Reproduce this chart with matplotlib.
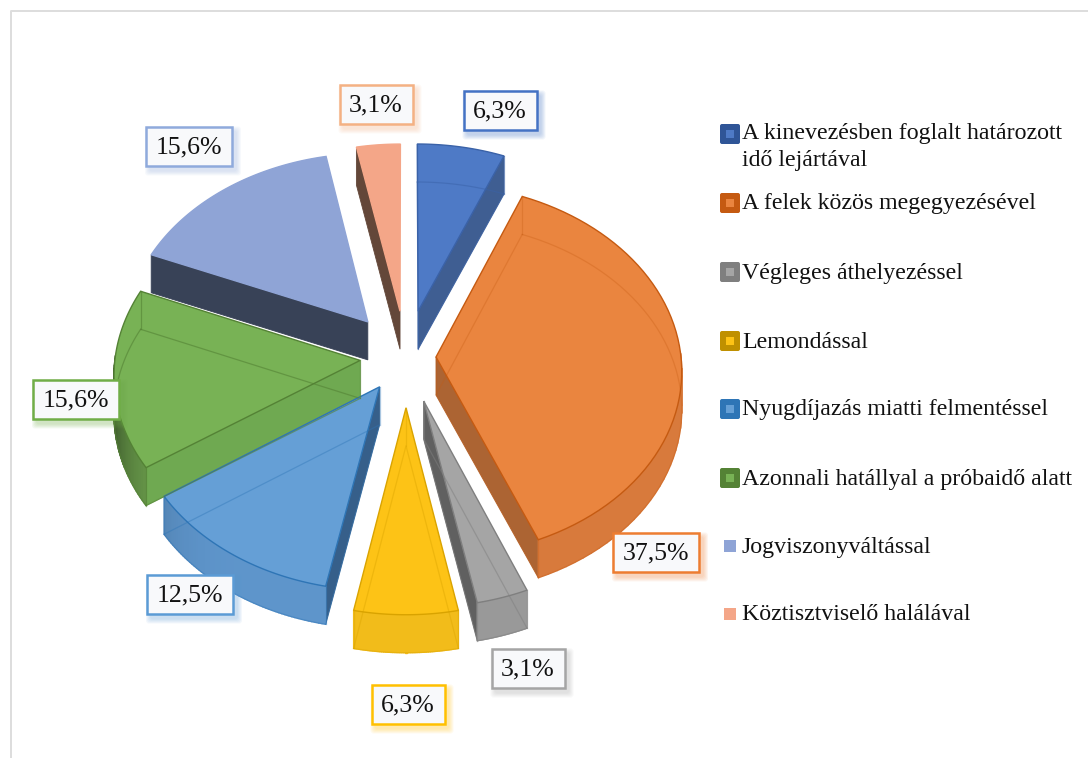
import numpy as np
import matplotlib
matplotlib.use("Agg")
import matplotlib.pyplot as plt
from matplotlib.patches import Polygon, Rectangle, FancyBboxPatch

plt.rcParams['font.family'] = ['Liberation Serif', 'DejaVu Serif']

# data
categories = [
    "A kinevezésben foglalt határozott\nidő lejártával",
    "A felek közös megegyezésével",
    "Végleges áthelyezéssel",
    "Lemondással",
    "Nyugdíjazás miatti felmentéssel",
    "Azonnali hatállyal a próbaidő alatt",
    "Jogviszonyváltással",
    "Köztisztviselő halálával",
]
values = [6.25, 37.5, 3.125, 6.25, 12.5, 15.625, 15.625, 3.125]
value_labels = ["6,3%", "37,5%", "3,1%", "6,3%", "12,5%", "15,6%", "15,6%", "3,1%"]

# colours
top_cols = ["#4E7AC6", "#EA853F", "#A5A5A5", "#FDC316", "#659FD6", "#78B255", "#8FA4D6", "#F4A688"]
wall_cols = ["#3F5E92", "#AC6433", "#606060", "#F2BC1A", "#365F8A", "#6FA951", "#384257", "#634739"]
rim_cols = ["#3F5E92", "#D87A3C", "#999999", "#F2BC1A", "#5E95CB", "#6FA34F", "#384257", "#634739"]
edge_cols = ["#3A62A8", "#C55A11", "#7F7F7F", "#D9A300", "#2E75B6", "#548235", "#8FA4D6", "#F4A688"]
swatch_cols = ["#2F5597", "#C55A11", "#7F7F7F", "#BF9000", "#2E75B6", "#548235", "#8FA4D6", "#F4A688"]
label_edges = ["#4472C4", "#ED7D31", "#A5A5A5", "#FFC000", "#5B9BD5", "#70AD47", "#8FAADC", "#F4B183"]
see_through = [0.5, 0.3, 0.5, 0.4, 0.4, 0.6, 0.0, 0.0]

# geometry of the fake 3d pie, in pixels
cx, cy = 406, 357
rx, ry = 245, 185
persp = 0.07
depth = 38
explode = [63, 30, 60, 66, 47, 46, 61, 62]

label_xy = [(500, 110), (656, 552), (528, 668), (408, 704), (190, 594), (76, 399), (189, 146), (376, 104)]
legend_y = [134, 203, 272, 341, 409, 478, 546, 614]


def project(u, v, off=0.0):
    s = 1 / (1 + persp * v / rx)
    return cx + u * s, cy - v * s * ry / rx + off


def shade(col, f):
    rgb = np.array(matplotlib.colors.to_rgb(col)) * f
    return tuple(np.clip(rgb, 0, 1))


fig = plt.figure(figsize=(10.88, 7.58), dpi=100)
ax = fig.add_axes([0, 0, 1, 1])
ax.set_xlim(0, 1088)
ax.set_ylim(758, 0)
ax.axis('off')

# chart frame
ax.plot([10.5, 10.5, 1088], [758, 11, 11], color="#DDDDDD", lw=1.4)

angles = np.concatenate([[0], np.cumsum(values)]) / sum(values) * 2 * np.pi


def draw_slice(i):
    a0, a1 = angles[i], angles[i + 1]
    mid = (a0 + a1) / 2
    e = explode[i]
    ou, ov = e * np.sin(mid), e * np.cos(mid)
    th = np.linspace(a0, a1, 60)
    au = ou + rx * np.sin(th)
    av = ov + rx * np.cos(th)
    tx, ty = project(au, av)
    bx, by = project(au, av, depth)
    ax0, ay0 = project(ou, ov)
    bx0, by0 = project(ou, ov, depth)

    # walls that look at the viewer
    if a1 < np.pi:
        ax.add_patch(Polygon([(ax0, ay0), (tx[-1], ty[-1]), (bx[-1], by[-1]), (bx0, by0)],
                             fc=wall_cols[i], ec=wall_cols[i], lw=0.6, zorder=2 + i * 0.01))
    if a0 > np.pi:
        ax.add_patch(Polygon([(ax0, ay0), (tx[0], ty[0]), (bx[0], by[0]), (bx0, by0)],
                             fc=wall_cols[i], ec=wall_cols[i], lw=0.6, zorder=2 + i * 0.01))
    # rim, darker towards the far left
    for k in range(len(th) - 1):
        if np.cos(th[k]) < 0.02:
            f = 1 - 0.45 * max(0, -np.sin(th[k])) ** 8
            c = shade(rim_cols[i], f)
            ax.add_patch(Polygon([(tx[k], ty[k]), (tx[k + 1], ty[k + 1]), (bx[k + 1], by[k + 1]), (bx[k], by[k])],
                                 fc=c, ec=c, lw=1.0, zorder=2 + i * 0.01))
    # top face
    ax.add_patch(Polygon(np.column_stack([np.r_[ax0, tx], np.r_[ay0, ty]]),
                         fc=top_cols[i], ec=edge_cols[i], lw=1.0, zorder=3 + i * 0.01))
    # edges seen through the slice
    if see_through[i] > 0:
        hidden = dict(color=edge_cols[i], lw=0.9, alpha=see_through[i], zorder=4 + i * 0.01)
        ax.plot(bx, by, **hidden)
        ax.plot([bx[0], bx0, bx[-1]], [by[0], by0, by[-1]], **hidden)
        ax.plot([ax0, bx0], [ay0, by0], **hidden)
        ax.plot([tx[0], bx[0]], [ty[0], by[0]], **hidden)
        ax.plot([tx[-1], bx[-1]], [ty[-1], by[-1]], **hidden)


# back slices first
for i in [7, 6, 0, 1, 5, 2, 4, 3]:
    draw_slice(i)

# value labels
for i, lab in enumerate(value_labels):
    x, y = label_xy[i]
    w = 73 if len(lab) == 4 else 86
    h = 39
    for g in range(5, 0, -1):
        ax.add_patch(FancyBboxPatch((x - w / 2 + 4 - g, y - h / 2 + 5 - g), w + 2 * g, h + 2 * g,
                                    boxstyle="round,pad=0,rounding_size=3", fc=label_edges[i], ec="none",
                                    alpha=0.07, zorder=6))
    ax.add_patch(Rectangle((x - w / 2, y - h / 2), w, h, fc="#F8F9FB", ec=label_edges[i], lw=1.8, zorder=7))
    ax.text(x, y + 1, lab, ha='center', va='center', fontsize=18.5, color="#111111", zorder=8)

# legend
for i, name in enumerate(categories):
    y = legend_y[i]
    if i < 6:
        ax.add_patch(FancyBboxPatch((720, y - 10), 20, 20, boxstyle="round,pad=0,rounding_size=2",
                                    fc=swatch_cols[i], ec="none", zorder=5))
        ax.add_patch(Rectangle((726, y - 4), 8, 8, fc=top_cols[i], ec="none", zorder=6))
    else:
        ax.add_patch(Rectangle((724, y - 6), 12, 12, fc=swatch_cols[i], ec="none", zorder=5))
    if i == 0:
        ax.text(742, y - 11, name, ha='left', va='top', fontsize=17.2, linespacing=1.37, color="#111111")
    else:
        ax.text(742, y + 1, name, ha='left', va='center', fontsize=17.2, color="#111111")

fig.savefig("out.png", dpi=100)
